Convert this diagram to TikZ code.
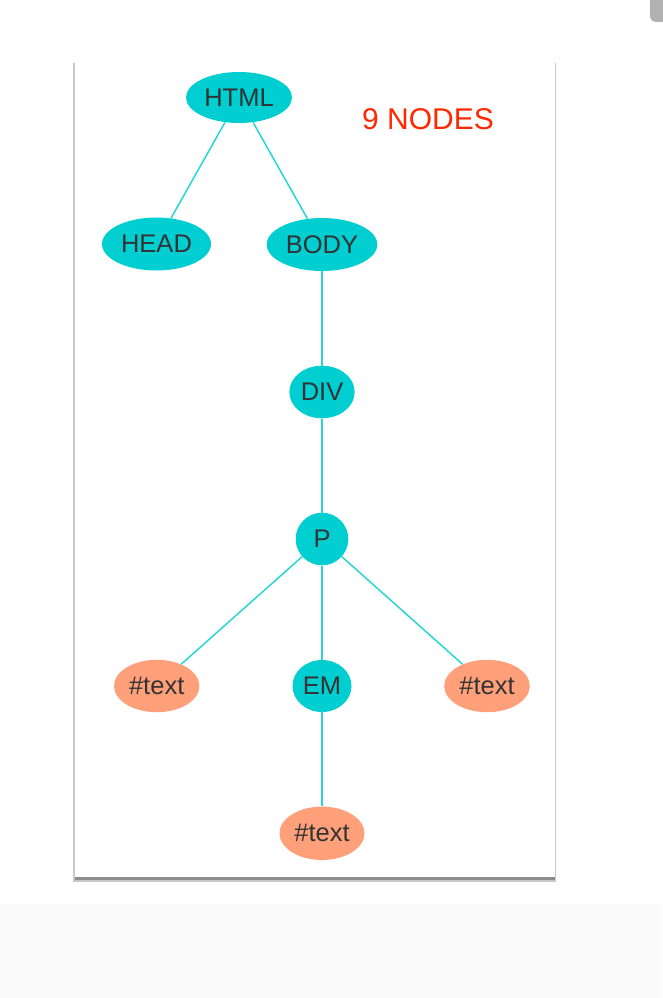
\documentclass[tikz,border=0pt]{standalone}
\usepackage{fontspec}
\setmainfont{Liberation Sans}
\usetikzlibrary{shapes.geometric}
\definecolor{teal1}{RGB}{0,206,209}
\definecolor{salmon1}{RGB}{255,160,122}
\definecolor{edgec}{RGB}{40,214,214}
\definecolor{txt}{RGB}{51,51,51}
\definecolor{redtxt}{RGB}{255,40,0}
\definecolor{bandgray}{RGB}{250,250,250}
\definecolor{cardline}{RGB}{215,215,215}
\definecolor{shadowc}{RGB}{140,140,140}
\definecolor{shadowl}{RGB}{200,200,200}
\definecolor{tabgray}{RGB}{178,178,178}
\begin{document}
\begin{tikzpicture}[x=1pt,y=-1pt,
  tnode/.style={ellipse, inner sep=0pt, text=txt, font=\fontsize{25.5pt}{30pt}\selectfont},
  elem/.style={tnode, fill=teal1},
  textn/.style={tnode, fill=salmon1},
  edge/.style={draw=edgec, line width=1.5pt}]
\useasboundingbox (0,0) rectangle (662,998);
\fill[white] (0,0) rectangle (662,998);
% bottom band
\fill[bandgray] (0,904) rectangle (662,998);
% top-right tab
\fill[tabgray, rounded corners=6pt] (650,-10) rectangle (680,22);
% card with shadow
\fill[shadowl] (73,63) rectangle (556,882);
\fill[shadowc] (75,872) rectangle (555,880);
\fill[white] (75,63) rectangle (554.5,876.5);
% nodes
\node[elem, minimum width=106pt, minimum height=51pt] (html) at (239,97.5) {HTML};
\node[elem, minimum width=109pt, minimum height=53pt] (head) at (156.5,244) {HEAD};
\node[elem, minimum width=110.6pt, minimum height=53pt] (body) at (322,244.5) {BODY};
\node[elem, minimum width=65.4pt, minimum height=52.6pt] (div) at (322,392) {DIV};
\node[elem, minimum width=52.6pt, minimum height=52.6pt] (p) at (322,539) {P};
\node[textn, minimum width=85.4pt, minimum height=52.4pt] (t1) at (156.7,686) {\#text};
\node[elem, minimum width=59pt, minimum height=52pt] (em) at (322,686) {EM};
\node[textn, minimum width=85.6pt, minimum height=52.4pt] (t2) at (487,686) {\#text};
\node[textn, minimum width=85pt, minimum height=53.4pt] (t3) at (322,833.3) {\#text};
% edges
\draw[edge] (html) -- (head);
\draw[edge] (html) -- (body);
\draw[edge] (body) -- (div);
\draw[edge] (div) -- (p);
\draw[edge] (p) -- (t1);
\draw[edge] (p) -- (em);
\draw[edge] (p) -- (t2);
\draw[edge] (em) -- (t3);
% label
\node[anchor=base west, inner sep=0pt, text=redtxt, font=\fontsize{30pt}{36pt}\selectfont] (lbl) at (362,129.3) {9 NODES};
\end{tikzpicture}
\end{document}
